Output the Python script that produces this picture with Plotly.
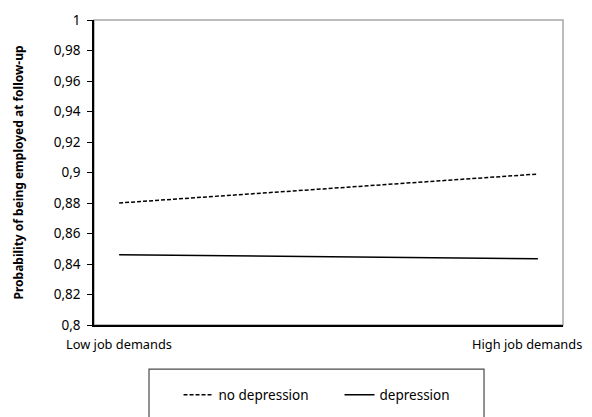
import plotly.graph_objects as go

categories = ["Low job demands", "High job demands"]
x_pos = [0, 1]
no_depression = [0.880, 0.899]
depression = [0.846, 0.8435]
y_ticks = [0.8, 0.82, 0.84, 0.86, 0.88, 0.9, 0.92, 0.94, 0.96, 0.98, 1.0]
y_tick_labels = ["0,8", "0,82", "0,84", "0,86", "0,88", "0,9", "0,92", "0,94", "0,96", "0,98", "1"]

FONT = "Noto Sans"
TS = 13.5

fig = go.Figure()
fig.add_trace(go.Scatter(
    x=x_pos, y=no_depression, mode="lines", name="no depression",
    line=dict(color="black", width=1.5, dash="4px,2px"),
))
fig.add_trace(go.Scatter(
    x=x_pos, y=depression, mode="lines", name="depression",
    line=dict(color="black", width=1.5),
))

# grey frame around plot area (top/right visible)
fig.add_shape(type="rect", xref="paper", yref="paper", x0=0, x1=1, y0=0, y1=1,
              line=dict(color="#A6A6A6", width=1.5), layer="below")
# legend box
fig.add_shape(type="rect", xref="paper", yref="paper",
              x0=0.1173, x1=0.8316, y0=-0.1447, y1=-0.40,
              line=dict(color="#4a4a4a", width=1.2))

# category labels as annotations (the right one nudged so it fits in the page)
for xv, label, shift in zip(x_pos, categories, [0, -11]):
    fig.add_annotation(x=xv, y=0, xref="x", yref="paper", text=label,
                       showarrow=False, xanchor="center", yanchor="top",
                       yshift=-8, xshift=shift,
                       font=dict(family=FONT, size=12.8, color="black"))

# page has an 8px body margin, so the figure is made smaller and margins shifted
fig.update_layout(
    width=584, height=409,
    margin=dict(l=86, r=29, t=12, b=91.5, pad=0, autoexpand=False),
    paper_bgcolor="white", plot_bgcolor="white",
    font=dict(family=FONT, size=TS, color="black"),
    showlegend=True,
    legend=dict(orientation="h", xref="container", yref="container",
                x=0.292, y=0.0538, xanchor="left", yanchor="middle",
                font=dict(family=FONT, size=TS, color="black"),
                bgcolor="rgba(0,0,0,0)", entrywidth=116, entrywidthmode="pixels",
                itemwidth=30),
    xaxis=dict(
        range=[-0.06, 1.06], tickvals=x_pos, showticklabels=False,
        showgrid=False, zeroline=False, showline=True, linecolor="black", linewidth=1.5,
        ticks="", fixedrange=True,
    ),
    yaxis=dict(
        range=[0.8, 1.0], tickvals=y_ticks, ticktext=y_tick_labels,
        showgrid=False, zeroline=False, showline=True, linecolor="black", linewidth=1.5,
        ticks="outside", ticklen=5, tickcolor="black", tickwidth=1, ticklabelstandoff=4,
        tickfont=dict(family=FONT, size=TS, color="black"),
        title=dict(text="<b>Probability of being employed at follow-up</b>",
                   font=dict(family=FONT, size=12, color="black"), standoff=28),
    ),
)

fig.write_html("out.html")
